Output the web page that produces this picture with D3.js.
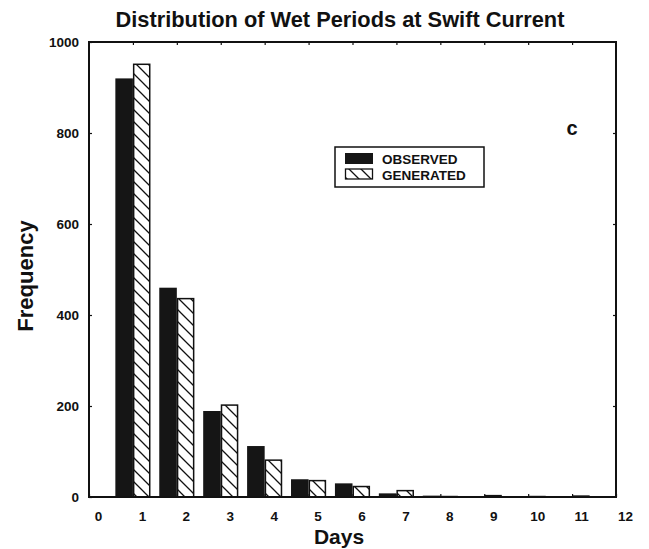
<!DOCTYPE html>
<html>
<head>
<meta charset="utf-8">
<script src="https://cdn.jsdelivr.net/npm/d3@7/dist/d3.min.js"></script>
<style>
  html, body { margin: 0; padding: 0; background: #fff; }
  svg { display: block; }
  text { font-family: Arial, "Liberation Sans", Helvetica, sans-serif; font-weight: bold; fill: #111; }
</style>
</head>
<body>
<svg id="chart" width="649" height="549"></svg>
<script>
// Wet-period length (days) and how often each length occurs
const days = [1, 2, 3, 4, 5, 6, 7, 8, 9, 10, 11];
const observed = [920, 460, 189, 112, 39, 30, 8, 3, 1, 1, 1];
const generated = [951, 436, 202, 81, 36, 23, 14, 1, 3, 1, 2];
const xTicks = [0, 1, 2, 3, 4, 5, 6, 7, 8, 9, 10, 11, 12];
const yTicks = [0, 200, 400, 600, 800, 1000];
const seriesNames = ["OBSERVED", "GENERATED"];

const svg = d3.select("#chart");
const plotLeft = 89, plotRight = 616, plotTop = 42, plotBottom = 497;

const x = d3.scaleLinear().domain([0, 12]).range([plotLeft, plotRight]);
const y = d3.scaleLinear().domain([0, 1000]).range([plotBottom, plotTop]);

// diagonal hatch used for the generated series
const defs = svg.append("defs");
defs.append("pattern")
  .attr("id", "hatch")
  .attr("patternUnits", "userSpaceOnUse")
  .attr("width", 12).attr("height", 12)
  .append("path")
  .attr("d", "M0,0L12,12M-3,9L3,15M9,-3L15,3")
  .attr("stroke", "#111").attr("stroke-width", 1.3).attr("fill", "none");

// title
svg.append("text")
  .attr("x", 340).attr("y", 27)
  .attr("text-anchor", "middle")
  .style("font-size", "21.8px")
  .text("Distribution of Wet Periods at Swift Current");

// bars
const half = 0.4;
const rows = days.map((d, i) => ({ d, obs: observed[i], gen: generated[i] }));

svg.append("g").selectAll("rect")
  .data(rows).join("rect")
  .attr("x", r => x(r.d - half))
  .attr("width", r => x(r.d) - x(r.d - half))
  .attr("y", r => y(r.obs))
  .attr("height", r => y(0) - y(r.obs))
  .attr("fill", "#151515");

svg.append("g").selectAll("rect")
  .data(rows).join("rect")
  .attr("x", r => x(r.d) + 0.75)
  .attr("width", r => x(r.d + half) - x(r.d) - 1.5)
  .attr("y", r => y(r.gen))
  .attr("height", r => Math.max(0, y(0) - y(r.gen)))
  .attr("fill", "url(#hatch)")
  .attr("stroke", "#111").attr("stroke-width", 1.5);

// axes
const xAxis = svg.append("g")
  .attr("transform", `translate(0,${plotBottom})`)
  .call(d3.axisBottom(x).tickValues(xTicks).tickSizeInner(-3).tickSizeOuter(0).tickPadding(14));
xAxis.select(".domain").remove();
xAxis.selectAll("text").attr("dx", 9).style("font-size", "13.5px");

const xTop = svg.append("g")
  .attr("transform", `translate(0,${plotTop})`)
  .call(d3.axisTop(x).tickValues(xTicks.slice(1, -1)).tickSizeInner(-3).tickSizeOuter(0).tickFormat(""));
xTop.select(".domain").remove();

const yAxis = svg.append("g")
  .attr("transform", `translate(${plotLeft},0)`)
  .call(d3.axisLeft(y).tickValues(yTicks).tickFormat(d3.format("d"))
    .tickSizeInner(-3).tickSizeOuter(0).tickPadding(10));
yAxis.select(".domain").remove();
yAxis.selectAll("text").style("font-size", "13.5px");

const yRight = svg.append("g")
  .attr("transform", `translate(${plotRight},0)`)
  .call(d3.axisRight(y).tickValues(yTicks.slice(1, -1)).tickSizeInner(-3).tickSizeOuter(0).tickFormat(""));
yRight.select(".domain").remove();

svg.selectAll(".tick line").attr("stroke", "#111").attr("stroke-width", 1.2);

// plot frame
svg.append("rect")
  .attr("x", plotLeft).attr("y", plotTop)
  .attr("width", plotRight - plotLeft).attr("height", plotBottom - plotTop)
  .attr("fill", "none").attr("stroke", "#111").attr("stroke-width", 2);

// axis titles
svg.append("text")
  .attr("transform", "translate(33,276) rotate(-90)")
  .attr("text-anchor", "middle")
  .style("font-size", "22px")
  .text("Frequency");

svg.append("text")
  .attr("x", 339).attr("y", 544)
  .attr("text-anchor", "middle")
  .style("font-size", "21px")
  .text("Days");

// panel letter
svg.append("text")
  .attr("x", 572).attr("y", 135)
  .attr("text-anchor", "middle")
  .style("font-size", "20px")
  .text("c");

// legend
const lg = svg.append("g");
lg.append("rect")
  .attr("x", 335).attr("y", 147).attr("width", 149).attr("height", 40)
  .attr("fill", "#fff").attr("stroke", "#111").attr("stroke-width", 1.5);
lg.append("rect")
  .attr("x", 345).attr("y", 153).attr("width", 28).attr("height", 11)
  .attr("fill", "#151515");
lg.append("rect")
  .attr("x", 345.5).attr("y", 169).attr("width", 27).attr("height", 10)
  .attr("fill", "url(#hatch)").attr("stroke", "#111").attr("stroke-width", 1.3);
lg.selectAll("text.lab")
  .data(seriesNames).join("text")
  .attr("class", "lab")
  .attr("x", 382)
  .attr("y", (d, i) => 163.5 + i * 16)
  .style("font-size", "13.5px")
  .text(d => d);
</script>
</body>
</html>
